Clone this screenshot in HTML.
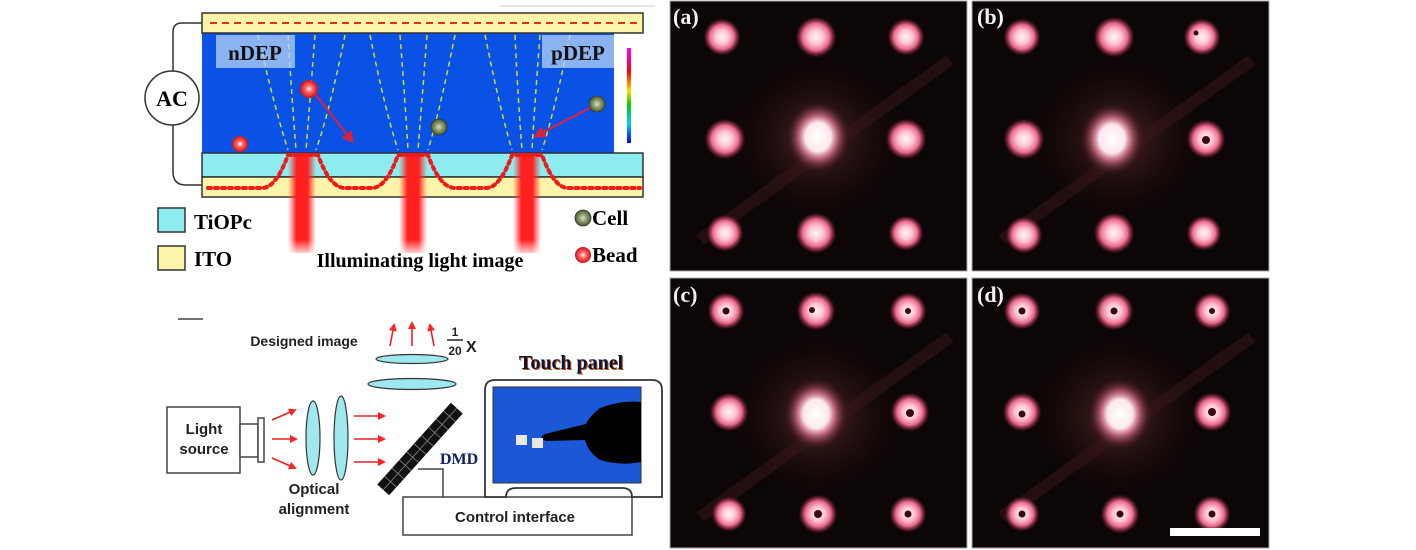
<!DOCTYPE html>
<html><head><meta charset="utf-8"><style>
html,body{margin:0;padding:0;background:#fff;}
svg{display:block;}
</style></head><body>
<svg width="1416" height="550" viewBox="0 0 1416 550" xmlns="http://www.w3.org/2000/svg">
<defs>
<radialGradient id="glow" cx="50%" cy="100%" r="50%">
<stop offset="0" stop-color="#ffe000"/><stop offset="0.3" stop-color="#22dd22"/><stop offset="0.6" stop-color="#20c8e0"/><stop offset="1" stop-color="#0a52e6" stop-opacity="0"/>
</radialGradient>
<linearGradient id="beam" x1="0" x2="1">
<stop offset="0" stop-color="#ff3030" stop-opacity="0"/><stop offset="0.3" stop-color="#ff2020"/><stop offset="0.7" stop-color="#ff2020"/><stop offset="1" stop-color="#ff3030" stop-opacity="0"/>
</linearGradient>
<linearGradient id="beamv" x1="0" y1="0" x2="0" y2="1">
<stop offset="0" stop-color="#fff" stop-opacity="0"/><stop offset="0.85" stop-color="#fff" stop-opacity="0"/><stop offset="1" stop-color="#fff" stop-opacity="0.9"/>
</linearGradient>
<radialGradient id="spot"><stop offset="0" stop-color="#fff6f8"/><stop offset="0.35" stop-color="#ffc4d2"/><stop offset="0.65" stop-color="#e86a8c"/><stop offset="0.85" stop-color="#8a2a40" stop-opacity="0.6"/><stop offset="1" stop-color="#200808" stop-opacity="0"/></radialGradient>
<radialGradient id="center"><stop offset="0" stop-color="#ffffff"/><stop offset="0.4" stop-color="#fde8ec"/><stop offset="0.6" stop-color="#d07088" stop-opacity="0.85"/><stop offset="1" stop-color="#3a1010" stop-opacity="0"/></radialGradient>
<radialGradient id="halo"><stop offset="0" stop-color="#6a3030" stop-opacity="0.75"/><stop offset="1" stop-color="#1a0808" stop-opacity="0"/></radialGradient>
<radialGradient id="bead"><stop offset="0" stop-color="#fff"/><stop offset="0.35" stop-color="#ff7070"/><stop offset="1" stop-color="#d01010"/></radialGradient>
<radialGradient id="cell"><stop offset="0" stop-color="#d8e0c0"/><stop offset="0.5" stop-color="#8a9a6a"/><stop offset="1" stop-color="#4a5a30"/></radialGradient>
<linearGradient id="cb" x1="0" y1="0" x2="0" y2="1"><stop offset="0" stop-color="#f0f"/><stop offset="0.25" stop-color="#f00"/><stop offset="0.45" stop-color="#fd0"/><stop offset="0.6" stop-color="#0c0"/><stop offset="0.8" stop-color="#0cf"/><stop offset="1" stop-color="#00f"/></linearGradient>
<marker id="ar" markerWidth="8" markerHeight="8" refX="6" refY="4" orient="auto" markerUnits="userSpaceOnUse"><path d="M0,0 L8,4 L0,8 z" fill="#f22"/></marker>
<marker id="ar2" markerWidth="12" markerHeight="12" refX="9" refY="6" orient="auto" markerUnits="userSpaceOnUse"><path d="M0,0 L12,6 L0,12 z" fill="#e0203a"/></marker>
</defs>

<!-- ===== TOP LEFT: DEP chip ===== -->
<path d="M202,23 H182 Q173,23 173,32 V172 Q173,185 186,185 H202" fill="none" stroke="#333" stroke-width="1.5"/>
<circle cx="172" cy="98" r="27" fill="#fff" stroke="#333" stroke-width="1.5"/>
<text x="172" y="106" font-family="Liberation Serif,serif" font-weight="bold" font-size="22" text-anchor="middle">AC</text>
<rect x="202" y="33" width="412" height="120" fill="#0a52e6"/>
<rect x="614" y="33" width="29" height="120" fill="#fff"/>
<rect x="627" y="48" width="4" height="95" fill="url(#cb)"/>
<ellipse cx="302" cy="153" rx="45" ry="45" fill="url(#glow)"/>
<ellipse cx="413" cy="153" rx="45" ry="45" fill="url(#glow)"/>
<ellipse cx="527" cy="153" rx="45" ry="45" fill="url(#glow)"/>
<g fill="none" stroke="#c8e020" stroke-width="1.5" stroke-dasharray="5,4">
<path d="M258,35 Q275,110 288,150"/><path d="M288,35 Q292,100 296,150"/><path d="M315,35 Q310,100 306,150"/><path d="M345,35 Q330,110 316,150"/>
<path d="M370,35 Q385,110 398,150"/><path d="M400,35 Q405,100 408,150"/><path d="M427,35 Q422,100 418,150"/><path d="M455,35 Q440,110 428,150"/>
<path d="M485,35 Q500,110 512,150"/><path d="M515,35 Q518,100 522,150"/><path d="M540,35 Q535,100 532,150"/><path d="M570,35 Q555,110 542,150"/>
</g>
<rect x="216" y="35" width="79" height="33" fill="#b8d4f4" opacity="0.75"/>
<text x="255" y="60" font-family="Liberation Serif,serif" font-weight="bold" font-size="21" text-anchor="middle" fill="#111">nDEP</text>
<rect x="542" y="35" width="72" height="33" fill="#b8d4f4" opacity="0.75"/>
<text x="578" y="60" font-family="Liberation Serif,serif" font-weight="bold" font-size="21" text-anchor="middle" fill="#111">pDEP</text>
<rect x="202" y="13" width="441" height="20" fill="#fcf4a8" stroke="#333" stroke-width="1.5"/>
<line x1="210" y1="23" x2="638" y2="23" stroke="#e03020" stroke-width="2" stroke-dasharray="7,5"/>
<rect x="202" y="153" width="441" height="24" fill="#8cecf0" stroke="#333" stroke-width="1.5"/>
<rect x="202" y="177" width="441" height="20" fill="#fcf4a8" stroke="#333" stroke-width="1.5"/>
<rect x="288" y="153" width="28" height="100" fill="url(#beam)"/>
<rect x="399" y="153" width="28" height="100" fill="url(#beam)"/>
<rect x="513" y="153" width="28" height="100" fill="url(#beam)"/>
<rect x="285" y="153" width="270" height="102" fill="url(#beamv)"/>
<path d="M208,188 H262 Q276,188 288,155 H318 Q330,188 345,188 H372 Q386,188 398,155 H428 Q440,188 455,188 H486 Q500,188 512,155 H542 Q554,188 568,188 H640" fill="none" stroke="#f01818" stroke-width="4" stroke-dasharray="3,4" stroke-linecap="round"/>
<circle cx="240" cy="144" r="8" fill="url(#bead)"/>
<circle cx="309" cy="89" r="9" fill="url(#bead)"/>
<circle cx="439" cy="127" r="8" fill="url(#cell)" stroke="#333" stroke-width="0.8"/>
<circle cx="597" cy="104" r="8" fill="url(#cell)" stroke="#333" stroke-width="0.8"/>
<line x1="316" y1="95" x2="352" y2="141" stroke="#e0203a" stroke-width="2" marker-end="url(#ar2)"/>
<line x1="590" y1="108" x2="536" y2="136" stroke="#e0203a" stroke-width="2" marker-end="url(#ar2)"/>
<rect x="158" y="208" width="27" height="24" fill="#8cecf0" stroke="#333" stroke-width="1.5"/>
<text x="194" y="229" font-family="Liberation Serif,serif" font-weight="bold" font-size="21">TiOPc</text>
<rect x="158" y="246" width="27" height="24" fill="#fcf4a8" stroke="#333" stroke-width="1.5"/>
<text x="194" y="266" font-family="Liberation Serif,serif" font-weight="bold" font-size="21">ITO</text>
<text x="420" y="267" font-family="Liberation Serif,serif" font-weight="bold" font-size="20" text-anchor="middle">Illuminating light image</text>
<circle cx="583" cy="218" r="8" fill="url(#cell)" stroke="#333" stroke-width="0.8"/>
<text x="592" y="225" font-family="Liberation Serif,serif" font-weight="bold" font-size="21">Cell</text>
<circle cx="583" cy="255" r="8" fill="url(#bead)"/>
<text x="592" y="262" font-family="Liberation Serif,serif" font-weight="bold" font-size="21">Bead</text>
<line x1="500" y1="6" x2="655" y2="6" stroke="#ccc" stroke-width="1"/>
<line x1="178" y1="319" x2="203" y2="319" stroke="#444" stroke-width="1.5"/>

<!-- ===== BOTTOM LEFT: optical setup ===== -->
<g stroke="#e82020" stroke-width="1.6" fill="none">
<line x1="390" y1="346" x2="394" y2="325" marker-end="url(#ar)"/>
<line x1="412" y1="346" x2="412" y2="323" marker-end="url(#ar)"/>
<line x1="434" y1="346" x2="430" y2="325" marker-end="url(#ar)"/>
<line x1="272" y1="420" x2="295" y2="410" marker-end="url(#ar)"/>
<line x1="272" y1="439" x2="296" y2="439" marker-end="url(#ar)"/>
<line x1="272" y1="458" x2="295" y2="468" marker-end="url(#ar)"/>
<line x1="354" y1="416" x2="384" y2="416" marker-end="url(#ar)"/>
<line x1="354" y1="439" x2="384" y2="439" marker-end="url(#ar)"/>
<line x1="354" y1="462" x2="384" y2="462" marker-end="url(#ar)"/>
</g>
<ellipse cx="412" cy="359" rx="36" ry="4.5" fill="#9ee8ee" stroke="#333" stroke-width="1.2"/>
<ellipse cx="412" cy="384" rx="44" ry="5.5" fill="#9ee8ee" stroke="#333" stroke-width="1.2"/>
<ellipse cx="313" cy="438" rx="7" ry="37" fill="#9ee8ee" stroke="#333" stroke-width="1.2"/>
<ellipse cx="341" cy="438" rx="7" ry="42" fill="#9ee8ee" stroke="#333" stroke-width="1.2"/>
<rect x="167" y="407" width="73" height="66" fill="#fff" stroke="#444" stroke-width="1.5"/>
<rect x="240" y="424" width="18" height="33" fill="#fff" stroke="#444" stroke-width="1.5"/>
<rect x="258" y="418" width="6" height="44" fill="#fff" stroke="#444" stroke-width="1.5"/>
<g transform="translate(420,449) rotate(-48)">
<rect x="-55" y="-8" width="110" height="16" fill="#111"/>
<g stroke="#888" stroke-width="0.8">
<line x1="-55" y1="0" x2="55" y2="0"/>
<line x1="-44" y1="-8" x2="-44" y2="8"/><line x1="-33" y1="-8" x2="-33" y2="8"/><line x1="-22" y1="-8" x2="-22" y2="8"/><line x1="-11" y1="-8" x2="-11" y2="8"/><line x1="0" y1="-8" x2="0" y2="8"/><line x1="11" y1="-8" x2="11" y2="8"/><line x1="22" y1="-8" x2="22" y2="8"/><line x1="33" y1="-8" x2="33" y2="8"/><line x1="44" y1="-8" x2="44" y2="8"/>
</g></g>
<text x="440" y="464" font-family="Liberation Serif,serif" font-weight="bold" font-size="16" fill="#102060">DMD</text>
<path d="M418,469 H443 V497" fill="none" stroke="#444" stroke-width="1.5"/>
<rect x="403" y="497" width="229" height="38" fill="#fff" stroke="#444" stroke-width="1.5"/>
<path d="M497,380 H652 Q662,380 662,390 V497 H632 Q632,488 622,488 H516 Q506,488 506,497 H485 V390 Q485,380 495,380 Z" fill="#fff" stroke="#333" stroke-width="1.8"/>
<rect x="493" y="387" width="148" height="96" fill="#1a58d8" stroke="#333" stroke-width="1"/>
<path d="M641,402 Q620,400 600,408 Q588,418 586,424 L545,434 Q538,438 546,441 L585,440 Q588,452 600,460 Q620,466 641,462 Z" fill="#000"/>
<rect x="516" y="435" width="11" height="10" fill="#e8e8e0"/>
<rect x="532" y="438" width="11" height="10" fill="#e8e8e0"/>
<text x="572" y="370" font-family="Liberation Serif,serif" font-weight="bold" font-size="20" text-anchor="middle" fill="#c05000">Touch panel</text>
<text x="571" y="369" font-family="Liberation Serif,serif" font-weight="bold" font-size="20" text-anchor="middle" fill="#0a1540">Touch panel</text>
<g font-family="Liberation Sans,sans-serif" font-weight="bold" fill="#222">
<text x="304" y="346" font-size="14" text-anchor="middle">Designed image</text>
<text x="455" y="336" font-size="12" text-anchor="middle">1</text>
<line x1="447" y1="340" x2="463" y2="340" stroke="#222" stroke-width="1.5"/>
<text x="455" y="355" font-size="12" text-anchor="middle">20</text>
<text x="466" y="352" font-size="16">X</text>
<text x="204" y="434" font-size="15" text-anchor="middle">Light</text>
<text x="204" y="454" font-size="15" text-anchor="middle">source</text>
<text x="314" y="494" font-size="15" text-anchor="middle">Optical</text>
<text x="314" y="514" font-size="15" text-anchor="middle">alignment</text>
<text x="515" y="522" font-size="15" text-anchor="middle">Control interface</text>
</g>

<!-- ===== RIGHT: 4 panels ===== -->
<rect x="670" y="1" width="297" height="270" fill="#0c0606" stroke="#aaa" stroke-width="1"/>
<rect x="972" y="1" width="297" height="270" fill="#0c0606" stroke="#aaa" stroke-width="1"/>
<rect x="670" y="278" width="297" height="270" fill="#0c0606" stroke="#aaa" stroke-width="1"/>
<rect x="972" y="278" width="297" height="270" fill="#0c0606" stroke="#aaa" stroke-width="1"/>
<g>
<ellipse cx="818" cy="139" rx="90" ry="85" fill="url(#halo)"/>
<ellipse cx="1118" cy="139" rx="90" ry="85" fill="url(#halo)"/>
<ellipse cx="818" cy="416" rx="90" ry="85" fill="url(#halo)"/>
<ellipse cx="1118" cy="416" rx="90" ry="85" fill="url(#halo)"/>
<line x1="700" y1="240" x2="950" y2="60" stroke="#3a1818" stroke-width="12" opacity="0.5"/>
<line x1="1002" y1="240" x2="1252" y2="60" stroke="#3a1818" stroke-width="12" opacity="0.5"/>
<line x1="700" y1="517" x2="950" y2="337" stroke="#3a1818" stroke-width="12" opacity="0.5"/>
<line x1="1002" y1="517" x2="1252" y2="337" stroke="#3a1818" stroke-width="12" opacity="0.5"/>
</g>
<g fill="url(#spot)">
<circle cx="722" cy="37" r="19"/><circle cx="816" cy="37" r="21"/><circle cx="906" cy="37" r="19"/>
<circle cx="725" cy="139" r="21"/><circle cx="906" cy="139" r="21"/>
<circle cx="725" cy="233" r="19"/><circle cx="816" cy="233" r="21"/><circle cx="906" cy="233" r="18"/>
<circle cx="1022" cy="37" r="19"/><circle cx="1114" cy="37" r="21"/><circle cx="1202" cy="37" r="19"/>
<circle cx="1024" cy="139" r="21"/><circle cx="1206" cy="139" r="20"/>
<circle cx="1024" cy="235" r="19"/><circle cx="1114" cy="233" r="21"/><circle cx="1204" cy="233" r="18"/>
<circle cx="726" cy="311" r="19"/><circle cx="816" cy="311" r="20"/><circle cx="908" cy="311" r="19"/>
<circle cx="729" cy="412" r="20"/><circle cx="910" cy="412" r="20"/>
<circle cx="729" cy="514" r="18"/><circle cx="818" cy="514" r="20"/><circle cx="908" cy="514" r="19"/>
<circle cx="1022" cy="311" r="19"/><circle cx="1114" cy="311" r="20"/><circle cx="1212" cy="311" r="19"/>
<circle cx="1022" cy="412" r="20"/><circle cx="1212" cy="412" r="20"/>
<circle cx="1022" cy="514" r="18"/><circle cx="1120" cy="514" r="20"/><circle cx="1212" cy="514" r="19"/>
</g>
<g fill="url(#center)">
<ellipse cx="818" cy="137" rx="32" ry="36"/><ellipse cx="1112" cy="139" rx="32" ry="36"/>
<ellipse cx="816" cy="414" rx="32" ry="36"/><ellipse cx="1120" cy="414" rx="32" ry="36"/>
</g>
<g fill="#3a0a12">
<circle cx="1196" cy="33" r="2.5"/><circle cx="1206" cy="140" r="4"/>
<circle cx="726" cy="311" r="3.5"/><circle cx="812" cy="310" r="3"/><circle cx="908" cy="311" r="3"/><circle cx="910" cy="413" r="4"/><circle cx="818" cy="514" r="4"/><circle cx="908" cy="514" r="3.5"/>
<circle cx="1022" cy="311" r="3.5"/><circle cx="1114" cy="311" r="3.5"/><circle cx="1212" cy="311" r="3"/><circle cx="1022" cy="414" r="3.5"/><circle cx="1212" cy="412" r="4"/><circle cx="1022" cy="514" r="3.5"/><circle cx="1120" cy="514" r="3.5"/><circle cx="1212" cy="514" r="3.5"/>
</g>
<g font-family="Liberation Serif,serif" font-weight="bold" font-size="22" fill="#f4f0f0">
<text x="673" y="24">(a)</text><text x="977" y="24">(b)</text>
<text x="673" y="302">(c)</text><text x="977" y="302">(d)</text>
</g>
<rect x="1170" y="528" width="90" height="8" fill="#fff"/>
</svg>
</body></html>
